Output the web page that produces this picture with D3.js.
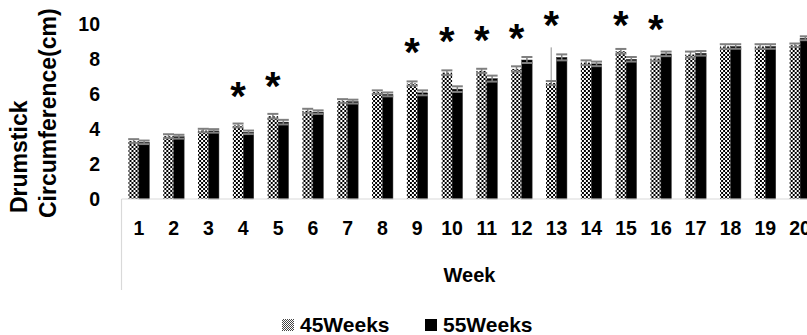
<!DOCTYPE html>
<html>
<head>
<meta charset="utf-8">
<script src="https://cdn.jsdelivr.net/npm/d3@7"></script>
<style>
  html, body { margin: 0; padding: 0; background: #fff; }
  svg { display: block; }
  text { font-family: "Liberation Sans", Arial, sans-serif; font-weight: bold; fill: #000; }
</style>
</head>
<body>
<svg id="chart" width="807" height="335"></svg>
<script>
// Drumstick circumference per week for two flock ages
const weeks = ["1","2","3","4","5","6","7","8","9","10","11","12","13","14","15","16","17","18","19","20"];
const seriesNames = ["45Weeks", "55Weeks"];
const values45 = [3.30,3.58,3.90,4.19,4.72,5.02,5.58,6.09,6.58,7.20,7.30,7.41,6.61,7.77,8.42,8.00,8.23,8.69,8.69,8.76];
const values55 = [3.23,3.55,3.88,3.80,4.38,4.95,5.55,5.96,6.05,6.26,6.86,7.92,8.07,7.70,7.96,8.27,8.30,8.69,8.69,9.16];
const err45 = [0.11,0.11,0.10,0.11,0.13,0.12,0.11,0.10,0.12,0.13,0.12,0.15,0.11,0.13,0.13,0.13,0.17,0.13,0.13,0.10];
const err55 = [0.10,0.11,0.10,0.10,0.13,0.10,0.11,0.11,0.14,0.16,0.17,0.17,0.17,0.13,0.13,0.13,0.13,0.13,0.13,0.11];
// highest single reading, shown as a long whisker where it stands apart
const maxReading45 = [null,null,null,null,null,null,null,null,null,null,null,null,8.64,null,null,null,null,null,null,null];
// significance markers: week and height of the marker
const starWeeks = ["4","5","9","10","11","12","13","15","16"];
const starLevels = [6.32,6.91,8.83,9.46,9.52,9.63,10.35,10.35,10.16];
const yTicks = [0,2,4,6,8,10];
const yTitleLines = ["Drumstick", "Circumference(cm)"];
const xTitle = "Week";

const svg = d3.select("#chart");

// fills
const defs = svg.append("defs");
const checker = defs.append("pattern")
  .attr("id", "checker").attr("patternUnits", "userSpaceOnUse")
  .attr("width", 4).attr("height", 4);
checker.append("rect").attr("width", 4).attr("height", 4).attr("fill", "#fff");
checker.append("rect").attr("width", 2).attr("height", 2).attr("fill", "#000");
checker.append("rect").attr("x", 2).attr("y", 2).attr("width", 2).attr("height", 2).attr("fill", "#000");

const checkerFine = defs.append("pattern")
  .attr("id", "checkerFine").attr("patternUnits", "userSpaceOnUse")
  .attr("width", 2).attr("height", 2);
checkerFine.append("rect").attr("width", 2).attr("height", 2).attr("fill", "#fff");
checkerFine.append("rect").attr("width", 1).attr("height", 1).attr("fill", "#444");
checkerFine.append("rect").attr("x", 1).attr("y", 1).attr("width", 1).attr("height", 1).attr("fill", "#444");

const fills = { "45Weeks": "url(#checker)", "55Weeks": "#000" };

// scales
const plotLeft = 121.5, step = 34.8;
const x = d3.scaleBand().domain(weeks).range([plotLeft, plotLeft + step * weeks.length]).padding(0);
const groupWidth = x.bandwidth() * 0.6;
const x1 = d3.scaleBand().domain(seriesNames)
  .range([(x.bandwidth() - groupWidth) / 2, (x.bandwidth() + groupWidth) / 2]).padding(0);
const y = d3.scaleLinear().domain([0, 10]).range([199, 23.5]);

// y tick labels (no axis line)
const yAxis = svg.append("g").attr("transform", "translate(100,0)")
  .call(d3.axisLeft(y).tickValues(yTicks).tickSize(0).tickPadding(0));
yAxis.select(".domain").remove();
yAxis.selectAll("text").style("font-size", "19.5px").attr("dy", "0.35em").attr("x", 0);

// y title, two rotated lines
const yTitlePos = [{ x: 27, y: 213 }, { x: 56, y: 218 }];
svg.selectAll("text.ytitle").data(yTitleLines).join("text")
  .attr("class", "ytitle")
  .attr("transform", (d, i) => `translate(${yTitlePos[i].x},${yTitlePos[i].y}) rotate(-90)`)
  .attr("text-anchor", "start")
  .style("font-size", "23px")
  .text(d => d);

// bars
const rows = weeks.map((w, i) => ({
  week: w,
  items: [
    { s: "45Weeks", v: values45[i], e: err45[i], max: maxReading45[i] },
    { s: "55Weeks", v: values55[i], e: err55[i], max: null }
  ]
}));

const groups = svg.append("g").selectAll("g").data(rows).join("g")
  .attr("transform", d => `translate(${x(d.week)},0)`);

groups.selectAll("rect").data(d => d.items).join("rect")
  .attr("x", d => x1(d.s))
  .attr("width", x1.bandwidth())
  .attr("y", d => y(d.v))
  .attr("height", d => y(0) - y(d.v))
  .attr("fill", d => fills[d.s])
  .attr("stroke", d => d.s === "55Weeks" ? "#333" : "none")
  .attr("stroke-width", 0.5);

// error bars
const eb = groups.selectAll("g.err").data(d => d.items).join("g").attr("class", "err");
const capHalf = 5.5;
const errColor = "#7f7f7f";
eb.filter(d => d.max != null).append("line")
  .attr("x1", d => x1(d.s) + x1.bandwidth() / 2)
  .attr("x2", d => x1(d.s) + x1.bandwidth() / 2)
  .attr("y1", d => y(d.v))
  .attr("y2", d => y(d.max))
  .attr("stroke", "#b3b3b3").attr("stroke-width", 1.5);
eb.append("line")
  .attr("x1", d => x1(d.s) + x1.bandwidth() / 2)
  .attr("x2", d => x1(d.s) + x1.bandwidth() / 2)
  .attr("y1", d => y(d.v - d.e))
  .attr("y2", d => y(d.v + d.e))
  .attr("stroke", errColor).attr("stroke-width", 1.5);
["+", "-"].forEach(sign => {
  eb.append("line")
    .attr("x1", d => x1(d.s) + x1.bandwidth() / 2 - capHalf)
    .attr("x2", d => x1(d.s) + x1.bandwidth() / 2 + capHalf)
    .attr("y1", d => y(sign === "+" ? d.v + d.e : d.v - d.e))
    .attr("y2", d => y(sign === "+" ? d.v + d.e : d.v - d.e))
    .attr("stroke", errColor).attr("stroke-width", 2);
});

// significance asterisks over the 45Weeks bars
const starSize = 40;
svg.selectAll("text.star").data(starWeeks).join("text")
  .attr("class", "star")
  .attr("x", d => x(d) + x1("45Weeks") + x1.bandwidth() / 2)
  .attr("y", (d, i) => y(starLevels[i]) + 0.55 * starSize)
  .attr("text-anchor", "middle")
  .style("font-size", starSize + "px")
  .text("*");

// category axis box
svg.append("line").attr("x1", plotLeft).attr("x2", 830).attr("y1", 199).attr("y2", 199)
  .attr("stroke", "#d9d9d9").attr("stroke-width", 1.2);
svg.append("line").attr("x1", plotLeft).attr("x2", plotLeft).attr("y1", 199).attr("y2", 290)
  .attr("stroke", "#d9d9d9").attr("stroke-width", 1.2);

svg.selectAll("text.cat").data(weeks).join("text")
  .attr("class", "cat")
  .attr("x", d => x(d) + x.bandwidth() / 2)
  .attr("y", 235)
  .attr("text-anchor", "middle")
  .style("font-size", "19.5px")
  .text(d => d);

svg.append("text").attr("x", 469.5).attr("y", 282).attr("text-anchor", "middle")
  .style("font-size", "20px").text(xTitle);

// legend
const legendItems = [
  { s: "45Weeks", sx: 282, tx: 300, fill: "url(#checkerFine)" },
  { s: "55Weeks", sx: 425, tx: 443, fill: "#000" }
];
const lg = svg.append("g");
lg.selectAll("rect").data(legendItems).join("rect")
  .attr("x", d => d.sx).attr("y", 319).attr("width", 12).attr("height", 12)
  .attr("fill", d => d.fill);
lg.selectAll("text").data(legendItems).join("text")
  .attr("x", d => d.tx).attr("y", 332)
  .style("font-size", "21px")
  .text(d => d.s);
</script>
</body>
</html>
